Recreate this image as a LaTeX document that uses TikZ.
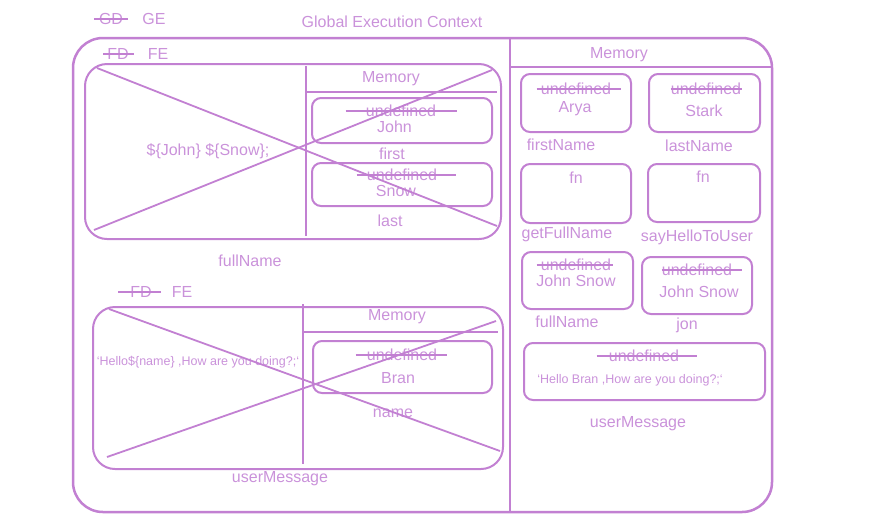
\documentclass[tikz,border=0pt]{standalone}
\usepackage{fontspec}
\setmainfont{Liberation Sans}
\usetikzlibrary{positioning,calc}
\definecolor{sketch}{RGB}{194,128,210}
\definecolor{sketchtext}{RGB}{202,146,218}

\begin{document}
\begin{tikzpicture}[
    x=1pt,y=-1pt,
    font=\fontsize{16}{19}\selectfont,
    txt/.style={text=sketchtext, inner sep=0pt},
    small/.style={txt, font=\fontsize{12.5}{15}\selectfont},
    frame/.style={draw=sketch, line width=2.5pt, rounded corners=30pt},
    ctxbox/.style={draw=sketch, line width=2pt, rounded corners=22pt},
    slot/.style={draw=sketch, line width=2pt, rounded corners=9pt, inner sep=0pt},
    rule/.style={draw=sketch, line width=1.8pt},
    strike/.style={draw=sketch, line width=1.7pt}
  ]
    \useasboundingbox (0,0) rectangle (869,531);

    % Kopf
    \node[txt] (gec) at (392,22) {Global Execution Context};
    \node[txt] (gd)  at (111,19) {GD};
    \node[txt] (ge)  at (154,19) {GE};
    \draw[strike] ([xshift=-5pt]gd.west) -- ([xshift=5pt]gd.east);

    % Rahmen GE
    \draw[frame] (73,38) rectangle (772,512);
    \draw[rule, line width=2.2pt] (510,38) -- (510,512);
    \draw[rule] (509,67) -- (771,67);

    % FE fullName
    \node[txt] (fd1) at (118,54) {FD};
    \node[txt] (fe1) at (158,54) {FE};
    \draw[strike] ([xshift=-4pt]fd1.west) -- ([xshift=5pt]fd1.east);
    \draw[ctxbox] (85,64) rectangle (501,239);
    \draw[rule] (306,66) -- (306,236);
    \draw[rule] (305,92) -- (497,92);
    \node[txt] (mem1) at (391,79) {Memory};
    \node[txt] (ret1) at (208,151) {\$\{John\} \$\{Snow\};};
    \node[slot, minimum width=180pt, minimum height=45pt] (first) at (402,120.5) {};
    \node[txt] (u1)  at (401,111) {undefined};
    \node[txt] (v1)  at (394.5,127) {John};
    \draw[strike] ([xshift=-20pt]u1.west) -- ([xshift=21pt]u1.east);
    \node[txt] (n1)  at (392,154) {first};
    \node[slot, minimum width=180pt, minimum height=43pt] (last) at (402,184.5) {};
    \node[txt] (u2)  at (402,175) {undefined};
    \node[txt] (v2)  at (396,191) {Snow};
    \draw[strike] ([xshift=-10pt]u2.west) -- ([xshift=19pt]u2.east);
    \node[txt] (n2)  at (390,221) {last};
    \draw[rule] (97,68) -- (497,226);
    \draw[rule] (94,230) -- (492,70);
    \node[txt] (fname) at (250,261) {fullName};

    % FE userMessage
    \node[txt] (fd2) at (141,292) {FD};
    \node[txt] (fe2) at (182,292) {FE};
    \draw[strike] ([xshift=-12pt]fd2.west) -- ([xshift=9pt]fd2.east);
    \draw[ctxbox] (93,307) rectangle (503,469);
    \draw[rule] (303,304) -- (303,464);
    \draw[rule] (303,332) -- (498,332);
    \node[txt] (mem2) at (397,317) {Memory};
    \node[small] (ret2) at (198,362) {`Hello\$\{name\} ,How are you doing?;`};
    \node[slot, minimum width=179pt, minimum height=52pt] (name) at (402.5,367) {};
    \node[txt] (u3)  at (402,355) {undefined};
    \node[txt] (v3)  at (398,378) {Bran};
    \draw[strike] ([xshift=-11pt]u3.west) -- ([xshift=10pt]u3.east);
    \node[txt] (n3)  at (393,413) {name};
    \draw[rule] (109,309) -- (500,451);
    \draw[rule] (107,457) -- (496,321);
    \node[txt] (umsg) at (280,479) {userMessage};

    % Memory GE
    \node[txt] (mem0) at (619,55) {Memory};

    \node[slot, minimum width=110pt, minimum height=58pt] (fn) at (576,103) {};
    \node[txt] (u4) at (576,89) {undefined};
    \node[txt] (v4) at (575,109) {Arya};
    \draw[strike] ([xshift=-4pt]u4.west) -- ([xshift=10pt]u4.east);
    \node[txt] (n4) at (561,145) {firstName};

    \node[slot, minimum width=111pt, minimum height=58pt] (ln) at (704.5,103) {};
    \node[txt] (u5) at (706,89) {undefined};
    \node[txt] (v5) at (704,111) {Stark};
    \draw[strike] ([xshift=0pt]u5.west) -- ([xshift=1pt]u5.east);
    \node[txt] (n5) at (699,146) {lastName};

    \node[slot, minimum width=110pt, minimum height=59pt] (gfn) at (576,193.5) {};
    \node[txt] (v6) at (576,178) {fn};
    \node[txt] (n6) at (567,234) {getFullName};

    \node[slot, minimum width=112pt, minimum height=58pt] (shu) at (704,193) {};
    \node[txt] (v7) at (703,177) {fn};
    \node[txt] (n7) at (697,237) {sayHelloToUser};

    \node[slot, minimum width=111pt, minimum height=57pt] (fnm) at (577.5,280.5) {};
    \node[txt] (u8) at (576,265) {undefined};
    \node[txt] (v8) at (576,281) {John Snow};
    \draw[strike] ([xshift=-4pt]u8.west) -- ([xshift=2pt]u8.east);
    \node[txt] (n8) at (567,322) {fullName};

    \node[slot, minimum width=110pt, minimum height=57pt] (jon) at (697,285.5) {};
    \node[txt] (u9) at (697,270) {undefined};
    \node[txt] (v9) at (699,292) {John Snow};
    \draw[strike] ([xshift=0pt]u9.west) -- ([xshift=10pt]u9.east);
    \node[txt] (n9) at (687,325) {jon};

    \node[slot, minimum width=241pt, minimum height=57pt] (um) at (644.5,371.5) {};
    \node[txt] (u10) at (644,356) {undefined};
    \node[small] (v10) at (630,380) {`Hello Bran ,How are you doing?;`};
    \draw[strike] ([xshift=-12pt]u10.west) -- ([xshift=18pt]u10.east);
    \node[txt] (n10) at (638,424) {userMessage};
\end{tikzpicture}
\end{document}
